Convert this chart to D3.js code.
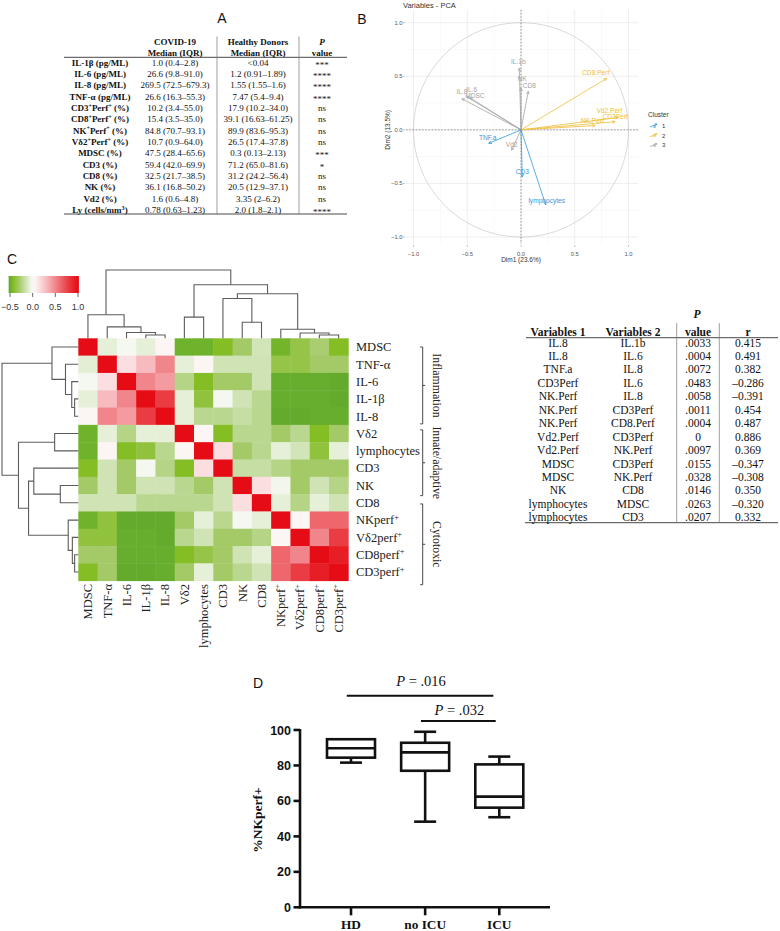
<!DOCTYPE html>
<html><head><meta charset="utf-8">
<script src="https://cdn.jsdelivr.net/npm/d3@7"></script>
<style>body{margin:0;background:#fff}svg{display:block}</style>
</head><body>
<svg id="fig" width="780" height="931"></svg>
<script>
// ================= DATA =================
// Panel A table
const aRowLabels = ["IL-1β (pg/ML)","IL-6 (pg/ML)","IL-8 (pg/ML)","TNF-α (pg/ML)","CD3^{+}Perf^{+} (%)","CD8^{+}Perf^{+} (%)","NK^{+}Perf^{+} (%)","Vδ2^{+}Perf^{+} (%)","MDSC (%)","CD3 (%)","CD8 (%)","NK (%)","Vd2 (%)","Ly (cells/mm^{3})"];
const aCovid = ["1.0 (0.4–2.8)","26.6 (9.8–91.0)","269.5 (72.5–679.3)","26.6 (16.3–55.3)","10.2 (3.4–55.0)","15.4 (3.5–35.0)","84.8 (70.7–93.1)","10.7 (0.9–64.0)","47.5 (28.4–65.6)","59.4 (42.0–69.9)","32.5 (21.7–38.5)","36.1 (16.8–50.2)","1.6 (0.6–4.8)","0.78 (0.63–1.23)"];
const aHealthy = ["<0.04","1.2 (0.91–1.89)","1.55 (1.55–1.6)","7.47 (5.4–9.4)","17.9 (10.2–34.0)","39.1 (16.63–61.25)","89.9 (83.6–95.3)","26.5 (17.4–37.8)","0.3 (0.13–2.13)","71.2 (65.0–81.6)","31.2 (24.2–56.4)","20.5 (12.9–37.1)","3.35 (2–6.2)","2.0 (1.8–2.1)"];
const aPval = ["***","****","****","****","ns","ns","ns","ns","***","*","ns","ns","ns","****"];

// Panel B PCA variables
const pcaVars = ["IL.1b","NK","CD8","IL.8","IL.6","MDSC","CD8.Perf","Vd2.Perf","CD3Perf","NK.Perf","TNF.a","Vd2","CD3","lymphocytes"];
const pcaDim1 = [-0.016,0.0,0.068,-0.55,-0.505,-0.475,0.797,0.905,0.875,0.69,-0.30,-0.087,0.012,0.23];
const pcaDim2 = [0.575,0.39,0.36,0.29,0.31,0.30,0.48,0.115,0.076,0.04,-0.126,-0.19,-0.44,-0.70];
const pcaCluster = [3,3,3,3,3,3,2,2,2,2,1,3,1,1];
const clusterIds = [1,2,3];
const pcaTicks = [-1,-0.5,0,0.5,1];

// Panel C heatmap
const hmKeys = ["MDSC","TNF","IL6","IL1b","IL8","Vd2","Lymph","CD3","NK","CD8","NKperf","Vd2perf","CD8perf","CD3perf"];
const hmLabels = ["MDSC","TNF-α","IL-6","IL-1β","IL-8","Vδ2","lymphocytes","CD3","NK","CD8","NKperf^{+}","Vδ2perf^{+}","CD8perf^{+}","CD3perf^{+}"];
const hmValues = [
 [1,-0.07,-0.02,-0.07,0.03,-0.48,-0.48,-0.43,-0.3,-0.14,-0.47,-0.36,-0.28,-0.43],
 [-0.08,1,0.15,0.3,0.5,-0.07,0.03,-0.15,-0.15,-0.15,-0.36,-0.36,-0.3,-0.3],
 [-0.02,0.15,1,0.5,0.42,-0.24,-0.43,-0.3,-0.3,-0.15,-0.5,-0.5,-0.5,-0.52],
 [-0.07,0.3,0.5,1,0.78,-0.07,-0.38,-0.02,-0.15,-0.22,-0.5,-0.5,-0.5,-0.52],
 [0.03,0.5,0.42,0.78,1,-0.07,-0.22,-0.22,-0.18,-0.22,-0.52,-0.52,-0.5,-0.5],
 [-0.48,-0.07,-0.24,-0.07,-0.07,1,0.03,-0.43,-0.22,-0.22,-0.3,-0.22,-0.43,-0.3],
 [-0.48,0.03,-0.43,-0.38,-0.22,0.03,1,0.15,-0.3,-0.22,-0.07,-0.14,-0.38,-0.07],
 [-0.43,-0.15,-0.3,-0.02,-0.24,-0.43,0.15,1,-0.18,-0.18,-0.24,-0.3,-0.3,-0.3],
 [-0.3,-0.15,-0.3,-0.15,-0.15,-0.22,-0.3,-0.15,1,0.15,-0.03,-0.3,-0.15,-0.24],
 [-0.15,-0.15,-0.15,-0.22,-0.22,-0.22,-0.22,-0.15,0.15,1,-0.07,-0.24,-0.07,-0.15],
 [-0.48,-0.38,-0.52,-0.52,-0.52,-0.3,-0.07,-0.22,-0.02,-0.07,1,0.03,0.62,0.62],
 [-0.38,-0.38,-0.5,-0.5,-0.52,-0.22,-0.15,-0.3,-0.3,-0.24,0.03,1,0.5,0.78],
 [-0.3,-0.3,-0.5,-0.5,-0.5,-0.43,-0.36,-0.3,-0.15,-0.07,0.62,0.5,1,0.92],
 [-0.43,-0.3,-0.52,-0.52,-0.5,-0.3,-0.07,-0.3,-0.22,-0.15,0.62,0.78,0.92,1]
];
const hmLegendTicks = [-0.5,0.0,0.5,1.0];
// hierarchical clustering tree (heights relative to root = 1)
const hmTree = {h:1,c:[
  {h:0.345,c:["MDSC",{h:0.168,c:["TNF",{h:0.086,c:["IL6",{h:0.048,c:["IL1b","IL8"]}]}]}]},
  {h:0.784,c:[
    {h:0.31,c:["Vd2","Lymph"]},
    {h:0.652,c:[
      {h:0.583,c:["CD3",{h:0.236,c:["NK","CD8"]}]},
      {h:0.132,c:["NKperf",{h:0.078,c:["Vd2perf",{h:0.048,c:["CD8perf","CD3perf"]}]}]}
    ]}
  ]}
]};
const hmGroups = [
  {name:"Inflammation", first:"MDSC", last:"IL8"},
  {name:"Innate/adaptive", first:"Vd2", last:"CD8"},
  {name:"Cytotoxic", first:"NKperf", last:"CD3perf"}
];

// Correlation table
const corVar1 = ["IL.8","IL.8","TNF.a","CD3Perf","NK.Perf","NK.Perf","NK.Perf","Vd2.Perf","Vd2.Perf","MDSC","MDSC","NK","lymphocytes","lymphocytes"];
const corVar2 = ["IL.1b","IL.6","IL.8","IL.6","IL.8","CD3Perf","CD8.Perf","CD3Perf","NK.Perf","CD3Perf","NK.Perf","CD8","MDSC","CD3"];
const corP = [".0033",".0004",".0072",".0483",".0058",".0011",".0004","0",".0097",".0155",".0328",".0146",".0263",".0207"];
const corR = ["0.415","0.491","0.382","–0.286","–0.391","0.454","0.487","0.886","0.369","–0.347","–0.308","0.350","–0.320","0.332"];

// Panel D box plot
const boxGroups = ["HD","no ICU","ICU"];
const boxMin = [81.6,48.3,50.8];
const boxQ1 = [84.4,77.0,56.2];
const boxMed = [89.7,87.4,62.4];
const boxQ3 = [94.8,92.8,80.6];
const boxMax = [94.8,99.0,85.0];
const boxTicks = [0,20,40,60,80,100];
const boxComparisons = [{from:"HD",to:"ICU",p:".016"},{from:"no ICU",to:"ICU",p:".032"}];

// ================= DRAW =================
const SERIF = "'Liberation Serif','Times New Roman',Times,serif";
const SANS = "'Liberation Sans',Arial,Helvetica,sans-serif";
const svg = d3.select("#fig");
svg.append("rect").attr("width",780).attr("height",931).attr("fill","#fff");

function rich(t, s, fs){
  const parts = s.split(/(\^\{[^}]*\})/).filter(p=>p);
  let up=false;
  parts.forEach(p=>{
    if(p.startsWith("^{")){
      t.append("tspan").attr("dy",-fs*0.38).attr("font-size",fs*0.68).text(p.slice(2,-1));
      up=true;
    } else {
      const ts=t.append("tspan").text(p);
      if(up){ts.attr("dy",fs*0.38);up=false;}
    }
  });
  return t;
}

// Panel letters
[["A",222,23],["B",362,24],["C",12,264],["D",258,688]].forEach(([l,x,y])=>{
  svg.append("text").attr("x",x).attr("y",y).attr("text-anchor","middle")
    .attr("font-family",SANS).attr("font-size",14).attr("fill","#111").text(l);
});

// ---------- Panel A ----------
(function(){
  const g = svg.append("g").attr("font-family",SERIF).attr("fill","#111");
  const colX = [100,175,258,322];
  const fs = 9;
  const rowY = d3.scaleLinear().domain([0,13]).range([62.3,210]);
  const hdr = [["COVID-19","Median (IQR)"],["Healthy Donors","Median (IQR)"],["P","value"]];
  hdr.forEach((h,i)=>{
    g.append("text").attr("x",colX[i+1]).attr("y",45).attr("text-anchor","middle")
      .attr("font-size",fs).attr("font-weight","bold").attr("font-style",i===2?"italic":"normal").text(h[0]);
    g.append("text").attr("x",colX[i+1]).attr("y",55.5).attr("text-anchor","middle")
      .attr("font-size",fs).attr("font-weight","bold").text(h[1]);
  });
  g.append("line").attr("x1",64).attr("x2",347).attr("y1",57.3).attr("y2",57.3).attr("stroke","#333").attr("stroke-width",0.9);
  g.append("line").attr("x1",64).attr("x2",347).attr("y1",214).attr("y2",214).attr("stroke","#333").attr("stroke-width",0.9);
  [217,299].forEach(x=>g.append("line").attr("x1",x).attr("x2",x).attr("y1",36.5).attr("y2",214).attr("stroke","#777").attr("stroke-width",0.7));
  aRowLabels.forEach((lab,i)=>{
    const y = rowY(i)+3.2;
    rich(g.append("text").attr("x",colX[0]).attr("y",y).attr("text-anchor","middle").attr("font-size",fs).attr("font-weight","bold"),lab,fs);
    g.append("text").attr("x",colX[1]).attr("y",y).attr("text-anchor","middle").attr("font-size",fs).text(aCovid[i]);
    g.append("text").attr("x",colX[2]).attr("y",y).attr("text-anchor","middle").attr("font-size",fs).text(aHealthy[i]);
    g.append("text").attr("x",colX[3]).attr("y",y+(aPval[i]==="ns"?0:2)).attr("text-anchor","middle").attr("font-size",fs).text(aPval[i]);
  });
})();

// ---------- Panel B PCA ----------
(function(){
  const g = svg.append("g");
  const px = d3.scaleLinear().domain([-1,1]).range([413.5,628.5]);
  const py = d3.scaleLinear().domain([-1,1]).range([237,22.7]);
  const x0=px(-1.07), x1=px(1.09), y0=py(1.12), y1=py(-1.065);
  const minor = [-0.75,-0.25,0.25,0.75];
  minor.forEach(v=>{
    g.append("line").attr("x1",px(v)).attr("x2",px(v)).attr("y1",y0).attr("y2",y1).attr("stroke","#f2f2f2").attr("stroke-width",0.5);
    g.append("line").attr("y1",py(v)).attr("y2",py(v)).attr("x1",x0).attr("x2",x1).attr("stroke","#f2f2f2").attr("stroke-width",0.5);
  });
  pcaTicks.forEach(v=>{
    g.append("line").attr("x1",px(v)).attr("x2",px(v)).attr("y1",y0).attr("y2",y1).attr("stroke","#e8e8e8").attr("stroke-width",0.7);
    g.append("line").attr("y1",py(v)).attr("y2",py(v)).attr("x1",x0).attr("x2",x1).attr("stroke","#e8e8e8").attr("stroke-width",0.7);
  });
  const circ = d3.range(0,361,2).map(a=>[px(Math.cos(a*Math.PI/180)),py(Math.sin(a*Math.PI/180))]);
  g.append("path").attr("d",d3.line()(circ)).attr("fill","none").attr("stroke","#c9c9c9").attr("stroke-width",0.7);
  g.append("line").attr("x1",x0).attr("x2",x1).attr("y1",py(0)).attr("y2",py(0)).attr("stroke","#555").attr("stroke-width",0.6).attr("stroke-dasharray","1.6,1.6");
  g.append("line").attr("x1",px(0)).attr("x2",px(0)).attr("y1",y0).attr("y2",y1).attr("stroke","#555").attr("stroke-width",0.6).attr("stroke-dasharray","1.6,1.6");
  const tickCol = "#555";
  pcaTicks.forEach(v=>{
    g.append("line").attr("x1",x0-3).attr("x2",x0-1).attr("y1",py(v)).attr("y2",py(v)).attr("stroke","#888").attr("stroke-width",0.5);
    g.append("text").attr("x",x0-3.5).attr("y",py(v)+2).attr("text-anchor","end").attr("font-family",SANS).attr("font-size",5.8).attr("fill",tickCol).text(d3.format(".1f")(v));
    g.append("line").attr("y1",y1+1).attr("y2",y1+3).attr("x1",px(v)).attr("x2",px(v)).attr("stroke","#888").attr("stroke-width",0.5);
    g.append("text").attr("x",px(v)).attr("y",y1+12).attr("text-anchor","middle").attr("font-family",SANS).attr("font-size",5.8).attr("fill",tickCol).text(d3.format(".1f")(v));
  });
  g.append("text").attr("x",px(0)).attr("y",262).attr("text-anchor","middle").attr("font-family",SANS).attr("font-size",6.5).attr("fill","#333").text("Dim1 (23.6%)");
  g.append("text").attr("transform",`translate(390,${py(0)}) rotate(-90)`).attr("text-anchor","middle").attr("font-family",SANS).attr("font-size",6.5).attr("fill","#333").text("Dim2 (13.5%)");
  g.append("text").attr("x",403).attr("y",8).attr("font-family",SANS).attr("font-size",7.5).attr("fill","#333").text("Variables - PCA");
  const cCol = d3.scaleOrdinal().domain(clusterIds).range(["#3598dc","#EDBE38","#a3a3a3"]);
  function arrow(sel, xa, ya, xb, yb, col, len){
    const ang = Math.atan2(yb-ya, xb-xa);
    sel.append("line").attr("x1",xa).attr("y1",ya).attr("x2",xb).attr("y2",yb).attr("stroke",col).attr("stroke-width",0.8);
    [0.45,-0.45].forEach(da=>{
      sel.append("line").attr("x1",xb).attr("y1",yb)
        .attr("x2",xb-len*Math.cos(ang+da)).attr("y2",yb-len*Math.sin(ang+da))
        .attr("stroke",col).attr("stroke-width",0.8);
    });
  }
  const labOff = {"IL.1b":[-1,-6],"NK":[1,-9],"CD8":[1,-5.5],"IL.8":[0,-7],"IL.6":[5,-7],"MDSC":[5,-2],
    "CD8.Perf":[-11,-6],"Vd2.Perf":[-9,-7],"CD3Perf":[0,-5],"NK.Perf":[-3,-5],"TNF.a":[-1,-6],"Vd2":[0,-5],"CD3":[0,-5],"lymphocytes":[1,-4]};
  pcaVars.forEach((v,i)=>{
    arrow(g, px(0), py(0), px(pcaDim1[i]), py(pcaDim2[i]), cCol(pcaCluster[i]), 3.2);
  });
  pcaVars.forEach((v,i)=>{
    const o = labOff[v]||[0,-5];
    g.append("text").attr("x",px(pcaDim1[i])+o[0]).attr("y",py(pcaDim2[i])+o[1]+2.2).attr("text-anchor","middle")
      .attr("font-family",SANS).attr("font-size",6.6).attr("fill",cCol(pcaCluster[i])).text(v);
  });
  g.append("text").attr("x",648).attr("y",116.5).attr("font-family",SANS).attr("font-size",6.5).attr("fill","#333").text("Cluster");
  clusterIds.forEach((c,i)=>{
    const y = 125.5 + i*9.8;
    arrow(g, 650, y+1.5, 657, y-1.5, cCol(c), 2.4);
    g.append("text").attr("x",653).attr("y",y+2).attr("font-family",SANS).attr("font-size",5).attr("fill",cCol(c)).text("a");
    g.append("text").attr("x",662).attr("y",y+2.2).attr("font-family",SANS).attr("font-size",6).attr("fill","#333").text(c);
  });
})();

// ---------- Panel C heatmap ----------
(function(){
  const g = svg.append("g");
  const gx = d3.scaleBand().domain(hmKeys).range([78.3,348.3]);
  const gy = d3.scaleBand().domain(hmKeys).range([338.3,580.7]);
  const hmColor = d3.scaleLinear()
    .domain([-0.55,-0.5,-0.43,-0.3,-0.15,-0.02,0.05,0.3,0.5,0.8,1])
    .range(["#5ea62c","#67ad2e","#84bd24","#a3ca66","#cfe3b4","#f5f8f0","#fdf5f6","#f7bbbf","#f0868b","#e8383e","#e60c16"])
    .clamp(true);
  hmKeys.forEach((rk,i)=>hmKeys.forEach((ck,j)=>{
    g.append("rect").attr("x",gx(ck)).attr("y",gy(rk)).attr("width",gx.bandwidth()+0.4).attr("height",gy.bandwidth()+0.4)
      .attr("fill",hmColor(hmValues[i][j]));
  }));
  const dCol="#5c5c5c", dW=1.1;
  const topY = h=>338.3 - h*68.3;
  const leftX = h=>78.3 - h*76.3;
  function walk(node, pos, draw){
    if(typeof node==="string") return {p:pos(node),h:0};
    const a=walk(node.c[0],pos,draw), b=walk(node.c[1],pos,draw);
    draw(a,b,node.h);
    return {p:(a.p+b.p)/2,h:node.h};
  }
  walk(hmTree, k=>gx(k)+gx.bandwidth()/2, (a,b,h)=>{
    g.append("path").attr("d",`M${a.p},${topY(a.h)}V${topY(h)}H${b.p}V${topY(b.h)}`).attr("fill","none").attr("stroke",dCol).attr("stroke-width",dW);
  });
  walk(hmTree, k=>gy(k)+gy.bandwidth()/2, (a,b,h)=>{
    g.append("path").attr("d",`M${leftX(a.h)},${a.p}H${leftX(h)}V${b.p}H${leftX(b.h)}`).attr("fill","none").attr("stroke",dCol).attr("stroke-width",dW);
  });
  const fs=12.5;
  hmKeys.forEach((k,i)=>{
    rich(g.append("text").attr("x",356).attr("y",gy(k)+gy.bandwidth()/2+4.3).attr("font-family",SERIF).attr("font-size",fs).attr("fill","#222"),hmLabels[i],fs);
    rich(g.append("text").attr("transform",`translate(${gx(k)+gx.bandwidth()/2+4.3},584) rotate(-90)`).attr("text-anchor","end")
      .attr("font-family",SERIF).attr("font-size",fs).attr("fill","#222"),hmLabels[i],fs);
  });
  const bx=422.7;
  hmGroups.forEach((grp,gi)=>{
    let yA = gy(grp.first)+ (gi===0?8.7:-7.5), yB = gy(grp.last)+gy.bandwidth()+ (gi===2?4:-1);
    if(gi===1){yA = gy(grp.first)+5; yB = gy(grp.last)+1.5;}
    const ym=(yA+yB)/2;
    g.append("path").attr("d",`M${bx-2.5},${yA}H${bx}V${yB}H${bx-2.5}M${bx},${ym}H${bx+2.5}`).attr("fill","none").attr("stroke","#333").attr("stroke-width",0.9);
    g.append("text").attr("transform",`translate(433,${ym}) rotate(90)`).attr("text-anchor","middle")
      .attr("font-family",SERIF).attr("font-size",11.8).attr("fill","#222").text(grp.name);
  });
  const defs = svg.append("defs");
  const grad = defs.append("linearGradient").attr("id","hmgrad").attr("x1","0%").attr("x2","100%").attr("y1","0%").attr("y2","0%");
  const lo=-0.53, hi=1.02;
  d3.range(0,1.0001,0.02).forEach(t=>grad.append("stop").attr("offset",(t*100)+"%").attr("stop-color",hmColor(lo+t*(hi-lo))));
  const lx = d3.scaleLinear().domain([-0.5,1]).range([10,78]);
  g.append("rect").attr("x",lx(lo)).attr("y",276).attr("width",lx(hi)-lx(lo)).attr("height",17).attr("fill","url(#hmgrad)");
  hmLegendTicks.forEach(v=>{
    g.append("line").attr("x1",lx(v)).attr("x2",lx(v)).attr("y1",293).attr("y2",297).attr("stroke","#444").attr("stroke-width",0.8);
    g.append("text").attr("x",lx(v)).attr("y",310).attr("text-anchor","middle").attr("font-family",SANS).attr("font-size",9).attr("fill","#333").text(d3.format(".1f")(v));
  });
})();

// ---------- Correlation table ----------
(function(){
  const g = svg.append("g").attr("font-family",SERIF).attr("fill","#111");
  const cx = [558,633,698,748];
  const fs = 11.5;
  const ry = d3.scaleLinear().domain([0,13]).range([342.5,517.3]);
  g.append("text").attr("x",697).attr("y",318).attr("text-anchor","middle").attr("font-size",fs).attr("font-weight","bold").attr("font-style","italic").text("P");
  ["Variables 1","Variables 2","value","r"].forEach((h,i)=>{
    g.append("text").attr("x",cx[i]).attr("y",335.5).attr("text-anchor","middle").attr("font-size",fs).attr("font-weight","bold").text(h);
  });
  g.append("line").attr("x1",526).attr("x2",778).attr("y1",337.7).attr("y2",337.7).attr("stroke","#333").attr("stroke-width",0.9);
  g.append("line").attr("x1",525).attr("x2",778).attr("y1",522.7).attr("y2",522.7).attr("stroke","#333").attr("stroke-width",0.9);
  [676.7,719.3].forEach(x=>g.append("line").attr("x1",x).attr("x2",x).attr("y1",323).attr("y2",522.7).attr("stroke","#777").attr("stroke-width",0.7));
  corVar1.forEach((v,i)=>{
    const y = ry(i)+4;
    [v,corVar2[i],corP[i],corR[i]].forEach((t,j)=>{
      g.append("text").attr("x",cx[j]).attr("y",y).attr("text-anchor","middle").attr("font-size",fs).text(t);
    });
  });
})();

// ---------- Panel D box plot ----------
(function(){
  const g = svg.append("g");
  const y = d3.scaleLinear().domain([0,100]).range([907.3,730]);
  const x = d3.scalePoint().domain(boxGroups).range([351,499.3]);
  const sw = 2.6, bw = 48, cw = 22;
  g.append("line").attr("x1",300).attr("x2",300).attr("y1",y(100)-1).attr("y2",y(0)+1.2).attr("stroke","#111").attr("stroke-width",sw);
  g.append("line").attr("x1",298.7).attr("x2",550).attr("y1",y(0)).attr("y2",y(0)).attr("stroke","#111").attr("stroke-width",sw);
  boxTicks.forEach(t=>{
    g.append("line").attr("x1",293.5).attr("x2",300).attr("y1",y(t)).attr("y2",y(t)).attr("stroke","#111").attr("stroke-width",sw);
    g.append("text").attr("x",291).attr("y",y(t)+4.5).attr("text-anchor","end").attr("font-family",SANS).attr("font-weight","bold").attr("font-size",12.5).attr("fill","#111").text(t);
  });
  boxGroups.forEach((grp,i)=>{
    const cx = x(grp);
    g.append("line").attr("x1",cx).attr("x2",cx).attr("y1",y(0)).attr("y2",y(0)+8).attr("stroke","#111").attr("stroke-width",sw);
    g.append("text").attr("x",cx).attr("y",928.5).attr("text-anchor","middle").attr("font-family",SERIF).attr("font-weight","bold").attr("font-size",13.3).attr("fill","#111").text(grp);
    g.append("line").attr("x1",cx).attr("x2",cx).attr("y1",y(boxMin[i])).attr("y2",y(boxQ1[i])).attr("stroke","#111").attr("stroke-width",sw);
    g.append("line").attr("x1",cx).attr("x2",cx).attr("y1",y(boxQ3[i])).attr("y2",y(boxMax[i])).attr("stroke","#111").attr("stroke-width",sw);
    g.append("line").attr("x1",cx-cw/2).attr("x2",cx+cw/2).attr("y1",y(boxMin[i])).attr("y2",y(boxMin[i])).attr("stroke","#111").attr("stroke-width",sw);
    if(boxMax[i]>boxQ3[i]) g.append("line").attr("x1",cx-cw/2).attr("x2",cx+cw/2).attr("y1",y(boxMax[i])).attr("y2",y(boxMax[i])).attr("stroke","#111").attr("stroke-width",sw);
    g.append("rect").attr("x",cx-bw/2).attr("y",y(boxQ3[i])).attr("width",bw).attr("height",y(boxQ1[i])-y(boxQ3[i])).attr("fill","#fff").attr("stroke","#111").attr("stroke-width",sw);
    g.append("line").attr("x1",cx-bw/2).attr("x2",cx+bw/2).attr("y1",y(boxMed[i])).attr("y2",y(boxMed[i])).attr("stroke","#111").attr("stroke-width",sw);
  });
  g.append("text").attr("transform","translate(262,820) rotate(-90)").attr("text-anchor","middle").attr("font-family",SERIF).attr("font-weight","bold").attr("font-size",13.5).attr("fill","#111").text("%NKperf+");
  const lineY=[695.7,721], textDy=[-10.2,-6.2];
  boxComparisons.forEach((c,i)=>{
    const xa = x(c.from)-4.2, xb = x(c.to)-(i===0?6:3.6);
    g.append("line").attr("x1",xa).attr("x2",xb).attr("y1",lineY[i]).attr("y2",lineY[i]).attr("stroke","#111").attr("stroke-width",2);
    const t = g.append("text").attr("x",(xa+xb)/2+1).attr("y",lineY[i]+textDy[i]).attr("text-anchor","middle").attr("font-family",SERIF).attr("font-size",14.5).attr("fill","#111");
    t.append("tspan").attr("font-style","italic").text("P");
    t.append("tspan").text(" = "+c.p);
  });
})();
</script>
</body></html>
